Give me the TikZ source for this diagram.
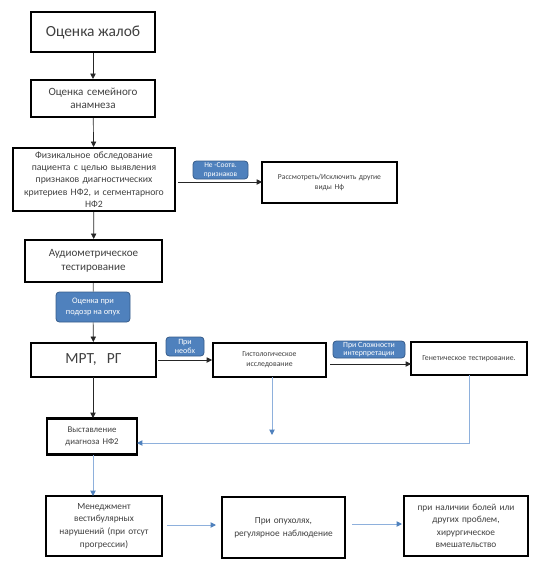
\documentclass[tikz,border=0pt]{standalone}
\usepackage{fontspec}
\setmainfont{Carlito}
\usetikzlibrary{arrows.meta}
\definecolor{txt}{HTML}{404040}
\definecolor{lblfill}{HTML}{4F81BD}
\definecolor{lbldraw}{HTML}{385D8A}
\definecolor{bline}{HTML}{8EB0DC}
\definecolor{bhead}{HTML}{4F81BD}
\tikzset{
  box/.style={draw=black, line width=1.6pt, fill=white, inner sep=1pt, align=center, text=txt},
  lbl/.style={draw=lbldraw, line width=0.6pt, fill=lblfill, rounded corners=2.5pt, inner sep=0.5pt, align=center, text=white, font=\fontsize{5.8}{6.8}\selectfont},
  blk/.style={draw=black!85, line width=0.5pt, -{Triangle[width=4pt,length=4pt]}},
  blkn/.style={draw=black!70, line width=0.5pt},
  blu/.style={draw=bline, line width=0.7pt, -{Triangle[width=4pt,length=4pt,color=bhead]}},
  blun/.style={draw=bline, line width=0.7pt},
}
\begin{document}
\begin{tikzpicture}[x=0.75pt,y=-0.75pt]
\useasboundingbox (0,0) rectangle (554,562);
% main column
\node[box, minimum width=93pt, minimum height=30pt, line width=1.9pt, font=\fontsize{11.6}{14}\selectfont] (b1) at (93,32) {Оценка жалоб};
\node[box, minimum width=93pt, minimum height=27.75pt, text width=88pt, font=\fontsize{8.3}{10}\selectfont] (b2) at (93,98.5) {Оценка семейного\\анамнеза};
\node[box, minimum width=121.5pt, minimum height=47.25pt, text width=118pt, font=\fontsize{7.3}{9.2}\selectfont] (b3) at (94,179.5) {Физикальное обследование\\пациента с целью выявления\\признаков диагностических\\критериев НФ2, и сегментарного\\НФ2};
\node[box, minimum width=101.25pt, minimum height=30.75pt, text width=98pt, line width=1.4pt, font=\fontsize{5.7}{7.5}\selectfont] (r1) at (329.5,182.5) {Рассмотреть/Исключить другие\\виды Нф};
\node[box, minimum width=102.75pt, minimum height=31.5pt, text width=98pt, font=\fontsize{8.3}{10}\selectfont] (b4) at (93.5,261) {Аудиометрическое\\тестирование};
\node[lbl, minimum width=55.5pt, minimum height=22.5pt, font=\fontsize{6.3}{7.6}\selectfont] (l1) at (93,307) {Оценка при\\подозр на опух};
\node[box, minimum width=93.75pt, minimum height=25.5pt, text width=90pt, font=\fontsize{11.6}{14}\selectfont] (mrt) at (93.5,360) {МРТ,\ \ РГ};
\node[box, minimum width=84.75pt, minimum height=25.5pt, text width=82pt, line width=1.4pt, font=\fontsize{5.8}{7.5}\selectfont] (hist) at (269.5,360) {Гистологическое\\исследование};
\node[box, minimum width=87pt, minimum height=24.75pt, text width=85pt, line width=1.6pt, font=\fontsize{5.8}{7.5}\selectfont] (gen) at (469,358.5) {Генетическое тестирование.};
\node[box, minimum width=67.5pt, minimum height=27pt, text width=65pt, font=\fontsize{6.6}{9.5}\selectfont] (diag) at (92,436.5) {Выставление\\диагноза НФ2};
% labels
\node[lbl, minimum width=41.25pt, minimum height=13.5pt, font=\fontsize{5.6}{6.4}\selectfont] (l0) at (220.5,170) {Не -Соотв.\\признаков};
\node[lbl, minimum width=28.5pt, minimum height=14.25pt, font=\fontsize{6}{6.8}\selectfont] (l2) at (185,346.5) {При\\необх};
\node[lbl, minimum width=54pt, minimum height=12.75pt, font=\fontsize{5.9}{6.6}\selectfont] (l3) at (369,349.5) {При Сложности\\интерпретации};
% bottom row
\node[box, minimum width=87pt, minimum height=45pt, text width=84pt, font=\fontsize{7}{9.4}\selectfont] (m1) at (104,526) {Менеджмент\\вестибулярных\\нарушений (при отсут\\прогрессии)};
\node[box, minimum width=92.25pt, minimum height=45.75pt, text width=90pt, font=\fontsize{7}{9.6}\selectfont] (m2) at (283.5,527.5) {При опухолях,\\регулярное наблюдение};
\node[box, minimum width=93pt, minimum height=45pt, text width=90pt, font=\fontsize{7}{9.4}\selectfont] (m3) at (466,526) {при наличии болей или\\других проблем,\\хирургическое\\вмешательство};
% coordinates
\coordinate (c3s) at (178,182);
\coordinate (r1w) at (262,182);
\coordinate (mrts) at (158,360);
\coordinate (mrtb) at (93,377);
\coordinate (diagt) at (93,418);
\coordinate (hists) at (330,364);
\coordinate (genw) at (411,364);
\coordinate (hdown) at (272,377);
\coordinate (hend) at (272,435);
\coordinate (gdown) at (469,375);
\coordinate (gcorner) at (469,443);
\coordinate (diage) at (137,443);
\coordinate (ddown) at (93,455);
\coordinate (m1top) at (93,496);
\coordinate (m1e) at (167,525);
\coordinate (m2w) at (216,525);
\coordinate (m2e) at (352,524);
\coordinate (m3w) at (402,524);
% connectors
\draw[blk] (b1) -- (b2);
\draw[blk] (b2) -- (b3);
\draw[blk] (b3) -- (b4);
\draw[blk] (c3s) -- (r1w);
\draw[blkn] (b4) -- (l1);
\draw[blk] (l1) -- (mrt);
\draw[blk] (mrts) -- (hist.west |- mrts);
\draw[blk] (hists) -- (genw);
\draw[blk] (mrtb) -- (diagt);
\draw[blu] (hdown) -- (hend);
\draw[blu] (gdown) -- (gcorner) -- (diage);
\draw[blu] (ddown) -- (m1top);
\draw[blu] (m1e) -- (m2w);
\draw[blu] (m2e) -- (m3w);
\end{tikzpicture}
\end{document}
